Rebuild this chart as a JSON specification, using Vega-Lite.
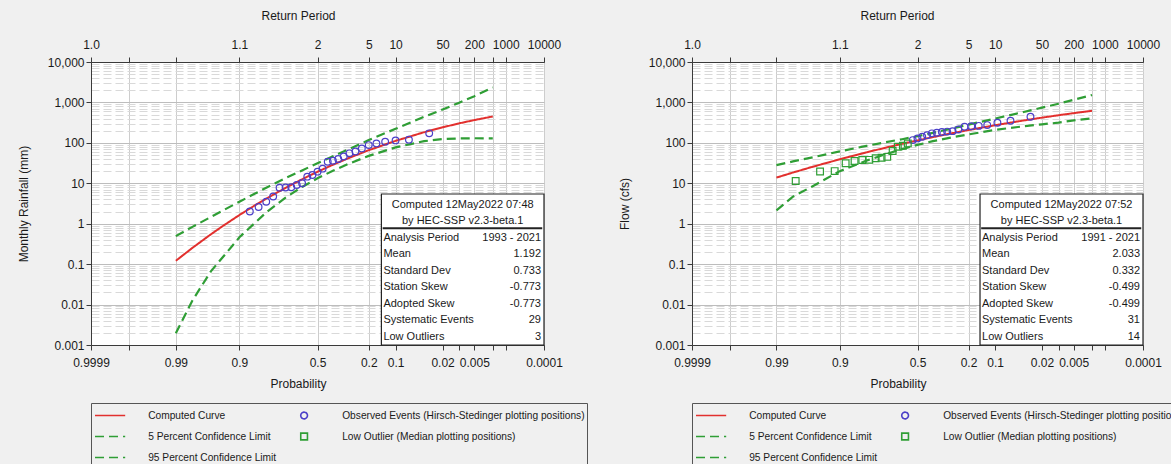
{
  "$schema": "https://vega.github.io/schema/vega-lite/v6.json",
  "background": "#f0f0f0",
  "padding": {"left": 16, "top": 8, "right": 0, "bottom": 0},
  "spacing": 29,
  "config": {
    "font": "Liberation Sans",
    "view": {"fill": "white", "stroke": "#3a3a3a"},
    "axis": {"labelFont": "Liberation Sans", "labelFontSize": 12, "labelColor": "#1a1a1a", "titleFont": "Liberation Sans", "titleFontSize": 12, "titleFontWeight": "normal", "titleColor": "#1a1a1a", "domainColor": "#3a3a3a", "tickColor": "#3a3a3a", "tickSize": 5, "labelFlush": false, "labelOverlap": false, "labelBound": false}
  },
  "datasets": {
    "L": [
      {"series":"Computed Curve","z":-2.3263,"v":0.121},{"series":"Computed Curve","z":-2.0537,"v":0.2525},{"series":"Computed Curve","z":-1.751,"v":0.546},{"series":"Computed Curve","z":-1.5548,"v":0.877},{"series":"Computed Curve","z":-1.2816,"v":1.642},{"series":"Computed Curve","z":-1.0364,"v":2.792},{"series":"Computed Curve","z":-0.8416,"v":4.17},{"series":"Computed Curve","z":-0.5244,"v":7.71},{"series":"Computed Curve","z":-0.2533,"v":12.57},{"series":"Computed Curve","z":0,"v":19.27},{"series":"Computed Curve","z":0.2533,"v":28.74},{"series":"Computed Curve","z":0.5244,"v":42.8},{"series":"Computed Curve","z":0.8416,"v":65.8},{"series":"Computed Curve","z":1.2816,"v":112},{"series":"Computed Curve","z":1.751,"v":183.4},{"series":"Computed Curve","z":2.0537,"v":242.2},{"series":"Computed Curve","z":2.3263,"v":303.6},{"series":"Computed Curve","z":2.5758,"v":366.4},{"series":"Computed Curve","z":2.8782,"v":449.2},
      {"series":"5 Percent Confidence Limit","z":-2.3263,"v":0.493},{"series":"5 Percent Confidence Limit","z":-2.0537,"v":0.836},{"series":"5 Percent Confidence Limit","z":-1.751,"v":1.469},{"series":"5 Percent Confidence Limit","z":-1.2816,"v":3.51},{"series":"5 Percent Confidence Limit","z":-0.8416,"v":7.76},{"series":"5 Percent Confidence Limit","z":-0.5244,"v":13.4},{"series":"5 Percent Confidence Limit","z":-0.2533,"v":20.8},{"series":"5 Percent Confidence Limit","z":0,"v":31.3},{"series":"5 Percent Confidence Limit","z":0.2533,"v":46.7},{"series":"5 Percent Confidence Limit","z":0.5244,"v":71.1},{"series":"5 Percent Confidence Limit","z":0.8416,"v":117},{"series":"5 Percent Confidence Limit","z":1.2816,"v":223},{"series":"5 Percent Confidence Limit","z":1.751,"v":440},{"series":"5 Percent Confidence Limit","z":2.0537,"v":667},{"series":"5 Percent Confidence Limit","z":2.3263,"v":982},{"series":"5 Percent Confidence Limit","z":2.5758,"v":1426},{"series":"5 Percent Confidence Limit","z":2.8782,"v":2355},
      {"series":"95 Percent Confidence Limit","z":-2.3263,"v":0.00195},{"series":"95 Percent Confidence Limit","z":-2.0537,"v":0.0126},{"series":"95 Percent Confidence Limit","z":-1.751,"v":0.0661},{"series":"95 Percent Confidence Limit","z":-1.2816,"v":0.462},{"series":"95 Percent Confidence Limit","z":-0.8416,"v":1.905},{"series":"95 Percent Confidence Limit","z":-0.5244,"v":4.44},{"series":"95 Percent Confidence Limit","z":-0.2533,"v":8.11},{"series":"95 Percent Confidence Limit","z":0,"v":13.3},{"series":"95 Percent Confidence Limit","z":0.2533,"v":20.4},{"series":"95 Percent Confidence Limit","z":0.5244,"v":30.9},{"series":"95 Percent Confidence Limit","z":0.8416,"v":47.6},{"series":"95 Percent Confidence Limit","z":1.2816,"v":77.4},{"series":"95 Percent Confidence Limit","z":1.751,"v":110},{"series":"95 Percent Confidence Limit","z":2.0537,"v":124},{"series":"95 Percent Confidence Limit","z":2.3263,"v":129},{"series":"95 Percent Confidence Limit","z":2.5758,"v":130},{"series":"95 Percent Confidence Limit","z":2.8782,"v":129},
      {"series":"Observed Events (Hirsch-Stedinger plotting positions)","z":1.834,"v":172},{"series":"Observed Events (Hirsch-Stedinger plotting positions)","z":1.501,"v":120},{"series":"Observed Events (Hirsch-Stedinger plotting positions)","z":1.2816,"v":115},{"series":"Observed Events (Hirsch-Stedinger plotting positions)","z":1.111,"v":107},{"series":"Observed Events (Hirsch-Stedinger plotting positions)","z":0.9674,"v":97},{"series":"Observed Events (Hirsch-Stedinger plotting positions)","z":0.8416,"v":88},{"series":"Observed Events (Hirsch-Stedinger plotting positions)","z":0.7279,"v":73},{"series":"Observed Events (Hirsch-Stedinger plotting positions)","z":0.6229,"v":61},{"series":"Observed Events (Hirsch-Stedinger plotting positions)","z":0.5244,"v":55},{"series":"Observed Events (Hirsch-Stedinger plotting positions)","z":0.4307,"v":46},{"series":"Observed Events (Hirsch-Stedinger plotting positions)","z":0.3407,"v":40},{"series":"Observed Events (Hirsch-Stedinger plotting positions)","z":0.2533,"v":36},{"series":"Observed Events (Hirsch-Stedinger plotting positions)","z":0.1679,"v":34},{"series":"Observed Events (Hirsch-Stedinger plotting positions)","z":0.0837,"v":23},{"series":"Observed Events (Hirsch-Stedinger plotting positions)","z":0,"v":19.4},{"series":"Observed Events (Hirsch-Stedinger plotting positions)","z":-0.0837,"v":16},{"series":"Observed Events (Hirsch-Stedinger plotting positions)","z":-0.1679,"v":14.6},{"series":"Observed Events (Hirsch-Stedinger plotting positions)","z":-0.2533,"v":10},{"series":"Observed Events (Hirsch-Stedinger plotting positions)","z":-0.3407,"v":9.1},{"series":"Observed Events (Hirsch-Stedinger plotting positions)","z":-0.4307,"v":8},{"series":"Observed Events (Hirsch-Stedinger plotting positions)","z":-0.5244,"v":7.9},{"series":"Observed Events (Hirsch-Stedinger plotting positions)","z":-0.6229,"v":7.8},{"series":"Observed Events (Hirsch-Stedinger plotting positions)","z":-0.7279,"v":4.7},{"series":"Observed Events (Hirsch-Stedinger plotting positions)","z":-0.8416,"v":3.5},{"series":"Observed Events (Hirsch-Stedinger plotting positions)","z":-0.9674,"v":2.6},{"series":"Observed Events (Hirsch-Stedinger plotting positions)","z":-1.111,"v":2.0}
    ],
    "R": [
      {"series":"Computed Curve","z":-2.3263,"v":13.83},{"series":"Computed Curve","z":-2.0537,"v":18.44},{"series":"Computed Curve","z":-1.751,"v":25.06},{"series":"Computed Curve","z":-1.2816,"v":39.28},{"series":"Computed Curve","z":-0.8416,"v":58.21},{"series":"Computed Curve","z":-0.5244,"v":76.03},{"series":"Computed Curve","z":-0.2533,"v":94.56},{"series":"Computed Curve","z":0,"v":114.9},{"series":"Computed Curve","z":0.2533,"v":138.5},{"series":"Computed Curve","z":0.5244,"v":167.8},{"series":"Computed Curve","z":0.8416,"v":207.5},{"series":"Computed Curve","z":1.2816,"v":273.3},{"series":"Computed Curve","z":1.751,"v":357.9},{"series":"Computed Curve","z":2.0537,"v":420.6},{"series":"Computed Curve","z":2.3263,"v":482.4},{"series":"Computed Curve","z":2.5758,"v":543.2},{"series":"Computed Curve","z":2.8782,"v":622.2},
      {"series":"5 Percent Confidence Limit","z":-2.3263,"v":28.2},{"series":"5 Percent Confidence Limit","z":-2.0537,"v":34.7},{"series":"5 Percent Confidence Limit","z":-1.751,"v":43.2},{"series":"5 Percent Confidence Limit","z":-1.2816,"v":61.7},{"series":"5 Percent Confidence Limit","z":-0.8416,"v":84.1},{"series":"5 Percent Confidence Limit","z":-0.5244,"v":103.8},{"series":"5 Percent Confidence Limit","z":-0.2533,"v":123},{"series":"5 Percent Confidence Limit","z":0,"v":146},{"series":"5 Percent Confidence Limit","z":0.2533,"v":177},{"series":"5 Percent Confidence Limit","z":0.5244,"v":219},{"series":"5 Percent Confidence Limit","z":0.8416,"v":283},{"series":"5 Percent Confidence Limit","z":1.2816,"v":400},{"series":"5 Percent Confidence Limit","z":1.751,"v":581},{"series":"5 Percent Confidence Limit","z":2.0537,"v":741},{"series":"5 Percent Confidence Limit","z":2.3263,"v":929},{"series":"5 Percent Confidence Limit","z":2.5758,"v":1161},{"series":"5 Percent Confidence Limit","z":2.8782,"v":1528},
      {"series":"95 Percent Confidence Limit","z":-2.3263,"v":2.14},{"series":"95 Percent Confidence Limit","z":-2.0537,"v":4.68},{"series":"95 Percent Confidence Limit","z":-1.751,"v":8.13},{"series":"95 Percent Confidence Limit","z":-1.2816,"v":19.95},{"series":"95 Percent Confidence Limit","z":-0.8416,"v":36.3},{"series":"95 Percent Confidence Limit","z":-0.5244,"v":52.5},{"series":"95 Percent Confidence Limit","z":-0.2533,"v":70},{"series":"95 Percent Confidence Limit","z":0,"v":89.1},{"series":"95 Percent Confidence Limit","z":0.2533,"v":110},{"series":"95 Percent Confidence Limit","z":0.5244,"v":133},{"series":"95 Percent Confidence Limit","z":0.8416,"v":162},{"series":"95 Percent Confidence Limit","z":1.2816,"v":209},{"series":"95 Percent Confidence Limit","z":1.751,"v":257},{"series":"95 Percent Confidence Limit","z":2.0537,"v":288},{"series":"95 Percent Confidence Limit","z":2.3263,"v":316},{"series":"95 Percent Confidence Limit","z":2.5758,"v":359},{"series":"95 Percent Confidence Limit","z":2.8782,"v":405},
      {"series":"Observed Events (Hirsch-Stedinger plotting positions)","z":1.863,"v":444},{"series":"Observed Events (Hirsch-Stedinger plotting positions)","z":1.534,"v":353},{"series":"Observed Events (Hirsch-Stedinger plotting positions)","z":1.318,"v":315},{"series":"Observed Events (Hirsch-Stedinger plotting positions)","z":1.15,"v":275},{"series":"Observed Events (Hirsch-Stedinger plotting positions)","z":1.01,"v":263},{"series":"Observed Events (Hirsch-Stedinger plotting positions)","z":0.887,"v":257},{"series":"Observed Events (Hirsch-Stedinger plotting positions)","z":0.776,"v":251},{"series":"Observed Events (Hirsch-Stedinger plotting positions)","z":0.674,"v":214},{"series":"Observed Events (Hirsch-Stedinger plotting positions)","z":0.579,"v":195},{"series":"Observed Events (Hirsch-Stedinger plotting positions)","z":0.489,"v":190},{"series":"Observed Events (Hirsch-Stedinger plotting positions)","z":0.402,"v":186},{"series":"Observed Events (Hirsch-Stedinger plotting positions)","z":0.319,"v":178},{"series":"Observed Events (Hirsch-Stedinger plotting positions)","z":0.237,"v":172},{"series":"Observed Events (Hirsch-Stedinger plotting positions)","z":0.157,"v":155},{"series":"Observed Events (Hirsch-Stedinger plotting positions)","z":0.078,"v":141},{"series":"Observed Events (Hirsch-Stedinger plotting positions)","z":0,"v":129},{"series":"Observed Events (Hirsch-Stedinger plotting positions)","z":-0.078,"v":117},
      {"series":"Low Outlier (Median plotting positions)","z":-0.16,"v":97},{"series":"Low Outlier (Median plotting positions)","z":-0.241,"v":85},{"series":"Low Outlier (Median plotting positions)","z":-0.325,"v":80},{"series":"Low Outlier (Median plotting positions)","z":-0.41,"v":63},{"series":"Low Outlier (Median plotting positions)","z":-0.499,"v":45},{"series":"Low Outlier (Median plotting positions)","z":-0.592,"v":43},{"series":"Low Outlier (Median plotting positions)","z":-0.69,"v":41.5},{"series":"Low Outlier (Median plotting positions)","z":-0.795,"v":38},{"series":"Low Outlier (Median plotting positions)","z":-0.91,"v":37.7},{"series":"Low Outlier (Median plotting positions)","z":-1.038,"v":35.6},{"series":"Low Outlier (Median plotting positions)","z":-1.185,"v":31.2},{"series":"Low Outlier (Median plotting positions)","z":-1.366,"v":20},{"series":"Low Outlier (Median plotting positions)","z":-1.607,"v":19.5},{"series":"Low Outlier (Median plotting positions)","z":-2.009,"v":11.4}
    ],
    "tL": [
      {"r":6,"k":"Analysis Period","val":"1993 - 2021"},{"r":5,"k":"Mean","val":"1.192"},{"r":4,"k":"Standard Dev","val":"0.733"},{"r":3,"k":"Station Skew","val":"-0.773"},{"r":2,"k":"Adopted Skew","val":"-0.773"},{"r":1,"k":"Systematic Events","val":"29"},{"r":0,"k":"Low Outliers","val":"3"}
    ],
    "tR": [
      {"r":6,"k":"Analysis Period","val":"1991 - 2021"},{"r":5,"k":"Mean","val":"2.033"},{"r":4,"k":"Standard Dev","val":"0.332"},{"r":3,"k":"Station Skew","val":"-0.499"},{"r":2,"k":"Adopted Skew","val":"-0.499"},{"r":1,"k":"Systematic Events","val":"31"},{"r":0,"k":"Low Outliers","val":"14"}
    ],
    "hL": [{"r":8,"h":"Computed 12May2022 07:48"},{"r":7,"h":"by HEC-SSP v2.3-beta.1"}],
    "hR": [{"r":8,"h":"Computed 12May2022 07:52"},{"r":7,"h":"by HEC-SSP v2.3-beta.1"}]
  },
  "resolve": {"scale": {"color": "independent", "strokeDash": "independent", "shape": "independent"}, "legend": {"color": "independent", "strokeDash": "independent", "shape": "independent"}},
  "hconcat": [
    {
      "width": 453, "height": 283,
      "data": {"name": "L"},
      "resolve": {"scale": {"y": "independent"}, "axis": {"x": "independent", "y": "independent"}},
      "layer": [
        {
          "transform": [{"filter": "datum.series == 'Computed Curve'"}],
          "mark": {"type": "line", "strokeWidth": 2},
          "encoding": {
            "x": {"field": "z", "type": "quantitative", "scale": {"domain": [-3.719, 3.719], "nice": false, "zero": false},
              "axis": {"orient": "bottom", "title": "Probability", "titleX": 207, "titlePadding": 10, "labelPadding": 7,
                "values": [-3.719, -3.0902, -2.3263, -1.2816, 0, 0.8416, 1.2816, 2.0537, 2.3263, 2.5758, 2.8782, 3.0902, 3.719],
                "labelExpr": "['0.9999','','0.99','0.9','0.5','0.2','0.1','0.02','','0.005','','','0.0001'][indexof([-372,-309,-233,-128,0,84,128,205,233,258,288,309,372], round(datum.value*100))]",
                "grid": true, "gridColor": "#cdcdcd"}},
            "y": {"field": "v", "type": "quantitative", "scale": {"type": "log", "domain": [0.001, 10000], "nice": false},
              "axis": {"title": "Monthly Rainfall (mm)", "titlePadding": 17, "labelPadding": 2,
                "values": [0.001,0.002,0.003,0.004,0.005,0.006,0.007,0.008,0.009,0.01,0.02,0.03,0.04,0.05,0.06,0.07,0.08,0.09,0.1,0.2,0.3,0.4,0.5,0.6,0.7,0.8,0.9,1,2,3,4,5,6,7,8,9,10,20,30,40,50,60,70,80,90,100,200,300,400,500,600,700,800,900,1000,2000,3000,4000,5000,6000,7000,8000,9000,10000],
                "labelExpr": "abs(log(datum.value)/LN10 - round(log(datum.value)/LN10)) < 0.000001 ? format(datum.value, ',') : ''",
                "grid": true,
                "gridColor": {"condition": {"test": "abs(log(datum.value)/LN10 - round(log(datum.value)/LN10)) < 0.000001", "value": "#bdbdbd"}, "value": "#d9d9d9"},
                "gridDash": {"condition": {"test": "abs(log(datum.value)/LN10 - round(log(datum.value)/LN10)) < 0.000001", "value": []}, "value": [8, 4]},
                "tickOpacity": {"condition": {"test": "abs(log(datum.value)/LN10 - round(log(datum.value)/LN10)) < 0.000001", "value": 1}, "value": 0}}},
            "color": {"field": "series", "type": "nominal",
              "scale": {"domain": ["Computed Curve", "5 Percent Confidence Limit", "95 Percent Confidence Limit", "Observed Events (Hirsch-Stedinger plotting positions)", "Low Outlier (Median plotting positions)"],
                "range": ["#e2302e", "#2f9e35", "#2f9e35", "#4b3fc8", "#2f9e35"]},
              "legend": {"orient": "bottom", "offset": 14, "direction": "vertical", "title": null, "columns": 2,
                "symbolSize": 45, "symbolOffset": 12, "symbolStrokeWidth": 1.6, "clipHeight": 21, "labelFont": "Liberation Sans", "labelFontSize": 10.2, "labelColor": "#1a1a1a",
                "labelOffset": 33, "columnPadding": 10, "rowPadding": 0, "padding": 2, "strokeColor": "#555555", "labelLimit": 400}},
            "strokeDash": {"field": "series", "type": "nominal",
              "scale": {"domain": ["Computed Curve", "5 Percent Confidence Limit", "95 Percent Confidence Limit", "Observed Events (Hirsch-Stedinger plotting positions)", "Low Outlier (Median plotting positions)"],
                "range": [[1, 0], [9, 5], [9, 5], [1, 0], [1, 0]]}}
          }
        },
        {
          "transform": [{"filter": "indexof(datum.series, 'Confidence') >= 0"}],
          "mark": {"type": "line", "strokeWidth": 2.2},
          "encoding": {
            "x": {"field": "z", "type": "quantitative", "scale": {"domain": [-3.719, 3.719], "nice": false, "zero": false},
              "axis": {"orient": "top", "title": "Return Period", "titleX": 207, "titlePadding": 16, "labelPadding": 6,
                "values": [-3.719, -3.0902, -2.3263, -1.2816, 0, 0.8416, 1.2816, 2.0537, 2.3263, 2.5758, 2.8782, 3.0902, 3.719],
                "labelExpr": "['1.0','','','1.1','2','5','10','50','','200','','1000','10000'][indexof([-372,-309,-233,-128,0,84,128,205,233,258,288,309,372], round(datum.value*100))]",
                "grid": false}},
            "y": {"field": "v", "type": "quantitative", "scale": {"type": "log", "domain": [0.001, 10000], "nice": false}, "axis": null},
            "color": {"field": "series", "type": "nominal"},
            "strokeDash": {"field": "series", "type": "nominal"}
          }
        },
        {
          "transform": [{"filter": "indexof(datum.series, 'Observed') >= 0"}],
          "mark": {"type": "point", "filled": false, "size": 45, "strokeWidth": 1.2, "opacity": 1},
          "encoding": {
            "x": {"field": "z", "type": "quantitative", "axis": null},
            "y": {"field": "v", "type": "quantitative", "scale": {"type": "log", "domain": [0.001, 10000], "nice": false}, "axis": null},
            "color": {"field": "series", "type": "nominal"},
            "shape": {"field": "series", "type": "nominal",
              "scale": {"domain": ["Computed Curve", "5 Percent Confidence Limit", "95 Percent Confidence Limit", "Observed Events (Hirsch-Stedinger plotting positions)", "Low Outlier (Median plotting positions)"],
                "range": ["M-4.5,0H4.5", "M-4.5,0H4.5", "M-4.5,0H4.5", "circle", "square"]}}
          }
        },
        {
          "data": {"values": [{}]},
          "mark": {"type": "rect", "fill": "white", "stroke": "#222222", "strokeWidth": 1.2},
          "encoding": {
            "x": {"datum": 1.049, "type": "quantitative", "axis": null}, "x2": {"datum": 3.719},
            "y": {"datum": -0.5, "type": "quantitative", "scale": {"domain": [-0.5, 16.65], "nice": false, "zero": false}, "axis": null}, "y2": {"datum": 8.65}
          }
        },
        {
          "data": {"values": [{}]},
          "mark": {"type": "rule", "stroke": "#222222", "strokeWidth": 2},
          "encoding": {
            "x": {"datum": 1.07, "type": "quantitative", "axis": null}, "x2": {"datum": 3.69},
            "y": {"datum": 6.57, "type": "quantitative", "scale": {"domain": [-0.5, 16.65], "nice": false, "zero": false}, "axis": null}
          }
        },
        {
          "data": {"name": "hL"},
          "mark": {"type": "text", "align": "center", "baseline": "middle", "fontSize": 11, "font": "Liberation Sans", "color": "#1a1a1a"},
          "encoding": {
            "x": {"datum": 2.384, "type": "quantitative", "axis": null},
            "y": {"field": "r", "type": "quantitative", "scale": {"domain": [-0.5, 16.65], "nice": false, "zero": false}, "axis": null},
            "text": {"field": "h"}
          }
        },
        {
          "data": {"name": "tL"},
          "mark": {"type": "text", "align": "left", "baseline": "middle", "dx": 2, "fontSize": 11, "font": "Liberation Sans", "color": "#1a1a1a"},
          "encoding": {
            "x": {"datum": 1.049, "type": "quantitative", "axis": null},
            "y": {"field": "r", "type": "quantitative", "scale": {"domain": [-0.5, 16.65], "nice": false, "zero": false}, "axis": null},
            "text": {"field": "k"}
          }
        },
        {
          "data": {"name": "tL"},
          "mark": {"type": "text", "align": "right", "baseline": "middle", "dx": -3, "fontSize": 11, "font": "Liberation Sans", "color": "#1a1a1a"},
          "encoding": {
            "x": {"datum": 3.719, "type": "quantitative", "axis": null},
            "y": {"field": "r", "type": "quantitative", "scale": {"domain": [-0.5, 16.65], "nice": false, "zero": false}, "axis": null},
            "text": {"field": "val"}
          }
        }
      ]
    },
    {
      "width": 451, "height": 283,
      "data": {"name": "R"},
      "resolve": {"scale": {"y": "independent"}, "axis": {"x": "independent", "y": "independent"}},
      "layer": [
        {
          "transform": [{"filter": "datum.series == 'Computed Curve'"}],
          "mark": {"type": "line", "strokeWidth": 2},
          "encoding": {
            "x": {"field": "z", "type": "quantitative", "scale": {"domain": [-3.719, 3.719], "nice": false, "zero": false},
              "axis": {"orient": "bottom", "title": "Probability", "titleX": 206, "titlePadding": 10, "labelPadding": 7,
                "values": [-3.719, -3.0902, -2.3263, -1.2816, 0, 0.8416, 1.2816, 2.0537, 2.3263, 2.5758, 2.8782, 3.0902, 3.719],
                "labelExpr": "['0.9999','','0.99','0.9','0.5','0.2','0.1','0.02','','0.005','','','0.0001'][indexof([-372,-309,-233,-128,0,84,128,205,233,258,288,309,372], round(datum.value*100))]",
                "grid": true, "gridColor": "#cdcdcd"}},
            "y": {"field": "v", "type": "quantitative", "scale": {"type": "log", "domain": [0.001, 10000], "nice": false},
              "axis": {"title": "Flow (cfs)", "titlePadding": 17, "labelPadding": 2,
                "values": [0.001,0.002,0.003,0.004,0.005,0.006,0.007,0.008,0.009,0.01,0.02,0.03,0.04,0.05,0.06,0.07,0.08,0.09,0.1,0.2,0.3,0.4,0.5,0.6,0.7,0.8,0.9,1,2,3,4,5,6,7,8,9,10,20,30,40,50,60,70,80,90,100,200,300,400,500,600,700,800,900,1000,2000,3000,4000,5000,6000,7000,8000,9000,10000],
                "labelExpr": "abs(log(datum.value)/LN10 - round(log(datum.value)/LN10)) < 0.000001 ? format(datum.value, ',') : ''",
                "grid": true,
                "gridColor": {"condition": {"test": "abs(log(datum.value)/LN10 - round(log(datum.value)/LN10)) < 0.000001", "value": "#bdbdbd"}, "value": "#d9d9d9"},
                "gridDash": {"condition": {"test": "abs(log(datum.value)/LN10 - round(log(datum.value)/LN10)) < 0.000001", "value": []}, "value": [8, 4]},
                "tickOpacity": {"condition": {"test": "abs(log(datum.value)/LN10 - round(log(datum.value)/LN10)) < 0.000001", "value": 1}, "value": 0}}},
            "color": {"field": "series", "type": "nominal",
              "scale": {"domain": ["Computed Curve", "5 Percent Confidence Limit", "95 Percent Confidence Limit", "Observed Events (Hirsch-Stedinger plotting positions)", "Low Outlier (Median plotting positions)"],
                "range": ["#e2302e", "#2f9e35", "#2f9e35", "#4b3fc8", "#2f9e35"]},
              "legend": {"orient": "bottom", "offset": 14, "direction": "vertical", "title": null, "columns": 2,
                "symbolSize": 45, "symbolOffset": 12, "symbolStrokeWidth": 1.6, "clipHeight": 21, "labelFont": "Liberation Sans", "labelFontSize": 10.2, "labelColor": "#1a1a1a",
                "labelOffset": 33, "columnPadding": 10, "rowPadding": 0, "padding": 2, "strokeColor": "#555555", "labelLimit": 400}},
            "strokeDash": {"field": "series", "type": "nominal",
              "scale": {"domain": ["Computed Curve", "5 Percent Confidence Limit", "95 Percent Confidence Limit", "Observed Events (Hirsch-Stedinger plotting positions)", "Low Outlier (Median plotting positions)"],
                "range": [[1, 0], [9, 5], [9, 5], [1, 0], [1, 0]]}}
          }
        },
        {
          "transform": [{"filter": "indexof(datum.series, 'Confidence') >= 0"}],
          "mark": {"type": "line", "strokeWidth": 2.2},
          "encoding": {
            "x": {"field": "z", "type": "quantitative", "scale": {"domain": [-3.719, 3.719], "nice": false, "zero": false},
              "axis": {"orient": "top", "title": "Return Period", "titleX": 205, "titlePadding": 16, "labelPadding": 6,
                "values": [-3.719, -3.0902, -2.3263, -1.2816, 0, 0.8416, 1.2816, 2.0537, 2.3263, 2.5758, 2.8782, 3.0902, 3.719],
                "labelExpr": "['1.0','','','1.1','2','5','10','50','','200','','1000','10000'][indexof([-372,-309,-233,-128,0,84,128,205,233,258,288,309,372], round(datum.value*100))]",
                "grid": false}},
            "y": {"field": "v", "type": "quantitative", "scale": {"type": "log", "domain": [0.001, 10000], "nice": false}, "axis": null},
            "color": {"field": "series", "type": "nominal"},
            "strokeDash": {"field": "series", "type": "nominal"}
          }
        },
        {
          "transform": [{"filter": "indexof(datum.series, 'Observed') >= 0 || indexof(datum.series, 'Low Outlier') >= 0"}],
          "mark": {"type": "point", "filled": false, "size": 45, "strokeWidth": 1.2, "opacity": 1},
          "encoding": {
            "x": {"field": "z", "type": "quantitative", "axis": null},
            "y": {"field": "v", "type": "quantitative", "scale": {"type": "log", "domain": [0.001, 10000], "nice": false}, "axis": null},
            "color": {"field": "series", "type": "nominal"},
            "shape": {"field": "series", "type": "nominal",
              "scale": {"domain": ["Computed Curve", "5 Percent Confidence Limit", "95 Percent Confidence Limit", "Observed Events (Hirsch-Stedinger plotting positions)", "Low Outlier (Median plotting positions)"],
                "range": ["M-4.5,0H4.5", "M-4.5,0H4.5", "M-4.5,0H4.5", "circle", "square"]}}
          }
        },
        {
          "data": {"values": [{}]},
          "mark": {"type": "rect", "fill": "white", "stroke": "#222222", "strokeWidth": 1.2},
          "encoding": {
            "x": {"datum": 1.031, "type": "quantitative", "axis": null}, "x2": {"datum": 3.719},
            "y": {"datum": -0.5, "type": "quantitative", "scale": {"domain": [-0.5, 16.65], "nice": false, "zero": false}, "axis": null}, "y2": {"datum": 8.65}
          }
        },
        {
          "data": {"values": [{}]},
          "mark": {"type": "rule", "stroke": "#222222", "strokeWidth": 2},
          "encoding": {
            "x": {"datum": 1.05, "type": "quantitative", "axis": null}, "x2": {"datum": 3.69},
            "y": {"datum": 6.57, "type": "quantitative", "scale": {"domain": [-0.5, 16.65], "nice": false, "zero": false}, "axis": null}
          }
        },
        {
          "data": {"name": "hR"},
          "mark": {"type": "text", "align": "center", "baseline": "middle", "fontSize": 11, "font": "Liberation Sans", "color": "#1a1a1a"},
          "encoding": {
            "x": {"datum": 2.375, "type": "quantitative", "axis": null},
            "y": {"field": "r", "type": "quantitative", "scale": {"domain": [-0.5, 16.65], "nice": false, "zero": false}, "axis": null},
            "text": {"field": "h"}
          }
        },
        {
          "data": {"name": "tR"},
          "mark": {"type": "text", "align": "left", "baseline": "middle", "dx": 2, "fontSize": 11, "font": "Liberation Sans", "color": "#1a1a1a"},
          "encoding": {
            "x": {"datum": 1.031, "type": "quantitative", "axis": null},
            "y": {"field": "r", "type": "quantitative", "scale": {"domain": [-0.5, 16.65], "nice": false, "zero": false}, "axis": null},
            "text": {"field": "k"}
          }
        },
        {
          "data": {"name": "tR"},
          "mark": {"type": "text", "align": "right", "baseline": "middle", "dx": -3, "fontSize": 11, "font": "Liberation Sans", "color": "#1a1a1a"},
          "encoding": {
            "x": {"datum": 3.719, "type": "quantitative", "axis": null},
            "y": {"field": "r", "type": "quantitative", "scale": {"domain": [-0.5, 16.65], "nice": false, "zero": false}, "axis": null},
            "text": {"field": "val"}
          }
        }
      ]
    }
  ]
}
